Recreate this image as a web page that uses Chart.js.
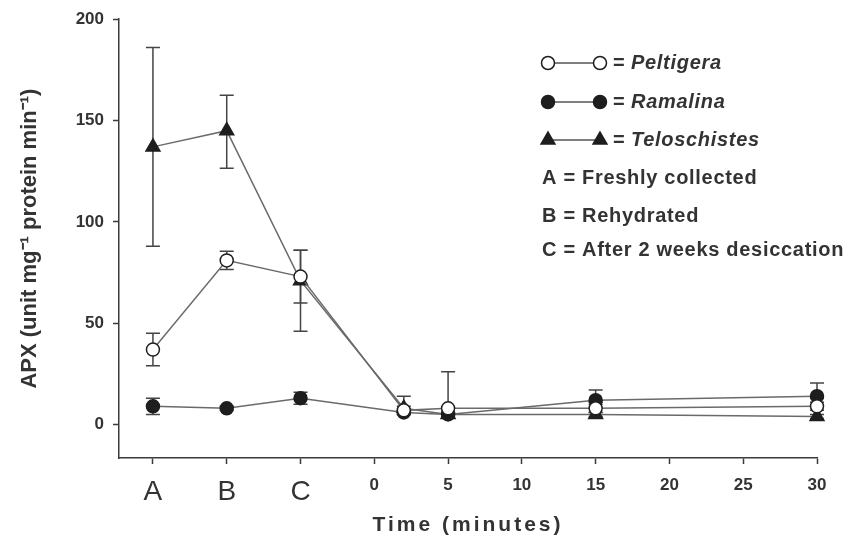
<!DOCTYPE html>
<html>
<head>
<meta charset="utf-8">
<script src="https://cdn.jsdelivr.net/npm/chart.js@4.4.1/dist/chart.umd.min.js"></script>
<style>
  html, body { margin: 0; padding: 0; background: #fff; }
  #wrap { width: 849px; height: 550px; }
</style>
</head>
<body>
<div id="wrap"><canvas id="apxChart" width="849" height="550"></canvas></div>
<script>
// A, B, C sit left of the time axis (at -15, -10, -5), minutes follow
const xTimes = [-15, -10, -5, 2, 5, 15, 30]
const xTickValues = [-15, -10, -5, 0, 5, 10, 15, 20, 25, 30]
const stageLabels = { '-15': 'A', '-10': 'B', '-5': 'C' }
const yTickValues = [0, 50, 100, 150, 200]

const peltigera = [37, 81, 73, 7, 8, 8, 9]
const peltigeraErrUp = [8, 4.5, 13, 2, 18, 2, 2]
const peltigeraErrDown = [8, 4.5, 13, 2, 2, 2, 2]

const ramalina = [9, 8, 13, 6, 5, 12, 14]
const ramalinaErrUp = [4, 1, 3, 1, 1, 5, 6.5]
const ramalinaErrDown = [4, 1, 3, 1, 1, 1, 1]

const teloschistes = [137, 145, 71, 8, 5, 5, 4]
const teloschistesErrUp = [49, 17.5, 15, 6, 1, 1, 1]
const teloschistesErrDown = [49, 18.5, 25, 1, 1, 1, 1]

const seriesNames = ['Peltigera', 'Ramalina', 'Teloschistes']
const stageNotes = ['A = Freshly collected', 'B = Rehydrated', 'C = After 2 weeks desiccation']

const family = '"Liberation Sans", Arial, sans-serif'
const ink = '#333'

const toPoints = values => xTimes.map((x, i) => ({ x, y: values[i] }))

const errorBars = {
  id: 'errorBars',
  beforeDatasetsDraw (chart) {
    const { ctx, scales: { y } } = chart
    ctx.save()
    ctx.strokeStyle = '#444'
    ctx.lineWidth = 1.5
    chart.data.datasets.forEach((ds, i) => {
      chart.getDatasetMeta(i).data.forEach((pt, j) => {
        const top = y.getPixelForValue(ds.data[j].y + ds.errUp[j])
        const bottom = y.getPixelForValue(ds.data[j].y - ds.errDown[j])
        ctx.beginPath()
        ctx.moveTo(pt.x, top)
        ctx.lineTo(pt.x, bottom)
        ctx.moveTo(pt.x - 7, top)
        ctx.lineTo(pt.x + 7, top)
        ctx.moveTo(pt.x - 7, bottom)
        ctx.lineTo(pt.x + 7, bottom)
        ctx.stroke()
      })
    })
    ctx.restore()
  }
}

const annotations = {
  id: 'annotations',
  afterDraw (chart) {
    const { ctx, chartArea } = chart
    const rows = [63, 102, 140]
    ctx.save()
    ctx.textBaseline = 'middle'
    ctx.fillStyle = ink
    ctx.letterSpacing = '0.7px'

    chart.data.datasets.forEach((ds, i) => {
      const y = rows[i]
      ctx.strokeStyle = '#555'
      ctx.lineWidth = 1.5
      ctx.beginPath()
      ctx.moveTo(548, y)
      ctx.lineTo(600, y)
      ctx.stroke()
      ctx.fillStyle = ds.pointBackgroundColor
      ctx.strokeStyle = ds.pointBorderColor
      ctx.lineWidth = ds.pointBorderWidth
      const opts = { pointStyle: ds.pointStyle, radius: ds.pointRadius, rotation: 0, borderWidth: ds.pointBorderWidth }
      Chart.helpers.drawPoint(ctx, opts, 548, y)
      Chart.helpers.drawPoint(ctx, opts, 600, y)
      ctx.fillStyle = ink
      ctx.font = `bold 20px ${family}`
      ctx.fillText('=', 613, y)
      ctx.font = `italic bold 20px ${family}`
      ctx.fillText(seriesNames[i], 631, y)
    })

    ctx.font = `bold 20px ${family}`
    stageNotes.forEach((note, i) => ctx.fillText(note, 542, [178, 216, 250][i]))

    ctx.letterSpacing = '3px'
    ctx.textAlign = 'center'
    ctx.font = `bold 21px ${family}`
    ctx.fillText('Time (minutes)', (chartArea.left + chartArea.right) / 2, 525)
    ctx.restore()
  }
}

const lineStyle = { borderColor: '#6a6a6a', borderWidth: 1.5, showLine: true, clip: false, pointBorderColor: '#1e1e1e', pointBorderWidth: 1.5 }

new Chart('apxChart', {
  type: 'scatter',
  data: {
    datasets: [
      {
        ...lineStyle,
        label: seriesNames[0],
        data: toPoints(peltigera),
        errUp: peltigeraErrUp,
        errDown: peltigeraErrDown,
        pointStyle: 'circle',
        pointRadius: 6.5,
        pointBackgroundColor: '#fff'
      },
      {
        ...lineStyle,
        label: seriesNames[1],
        data: toPoints(ramalina),
        errUp: ramalinaErrUp,
        errDown: ramalinaErrDown,
        pointStyle: 'circle',
        pointRadius: 6.5,
        pointBackgroundColor: '#1e1e1e'
      },
      {
        ...lineStyle,
        label: seriesNames[2],
        data: toPoints(teloschistes),
        errUp: teloschistesErrUp,
        errDown: teloschistesErrDown,
        pointStyle: 'triangle',
        pointRadius: 8,
        pointBackgroundColor: '#1e1e1e'
      }
    ]
  },
  options: {
    responsive: false,
    animation: false,
    layout: { padding: { top: 17, right: 32, bottom: 0, left: 0 } },
    plugins: { legend: { display: false }, tooltip: { enabled: false } },
    scales: {
      x: {
        type: 'linear',
        min: -17.3,
        max: 30,
        afterBuildTicks: scale => { scale.ticks = xTickValues.map(value => ({ value })) },
        afterFit: scale => { scale.height = 92 },
        border: { color: '#3a3a3a', width: 1.5 },
        grid: { drawOnChartArea: false, tickLength: 6, tickColor: '#3a3a3a', tickWidth: 1.5 },
        ticks: {
          autoSkip: false,
          maxRotation: 0,
          padding: 11,
          color: ink,
          callback: v => stageLabels[v] || String(v),
          font: c => (c.tick && stageLabels[c.tick.value])
            ? { size: 28, family }
            : { size: 17, weight: 'bold', family }
        }
      },
      y: {
        min: -16.5,
        max: 200,
        afterBuildTicks: scale => { scale.ticks = yTickValues.map(value => ({ value })) },
        afterFit: scale => { scale.width = 119 },
        border: { color: '#3a3a3a', width: 1.5 },
        grid: { drawOnChartArea: false, tickLength: 6, tickColor: '#3a3a3a', tickWidth: 1.5 },
        ticks: { padding: 9, color: ink, font: { size: 17, weight: 'bold', family } },
        title: {
          display: true,
          text: 'APX (unit mg⁻¹ protein min⁻¹)',
          color: ink,
          font: { size: 22, weight: 'bold', family },
          padding: { top: 17 }
        }
      }
    }
  },
  plugins: [errorBars, annotations]
})
</script>
</body>
</html>
